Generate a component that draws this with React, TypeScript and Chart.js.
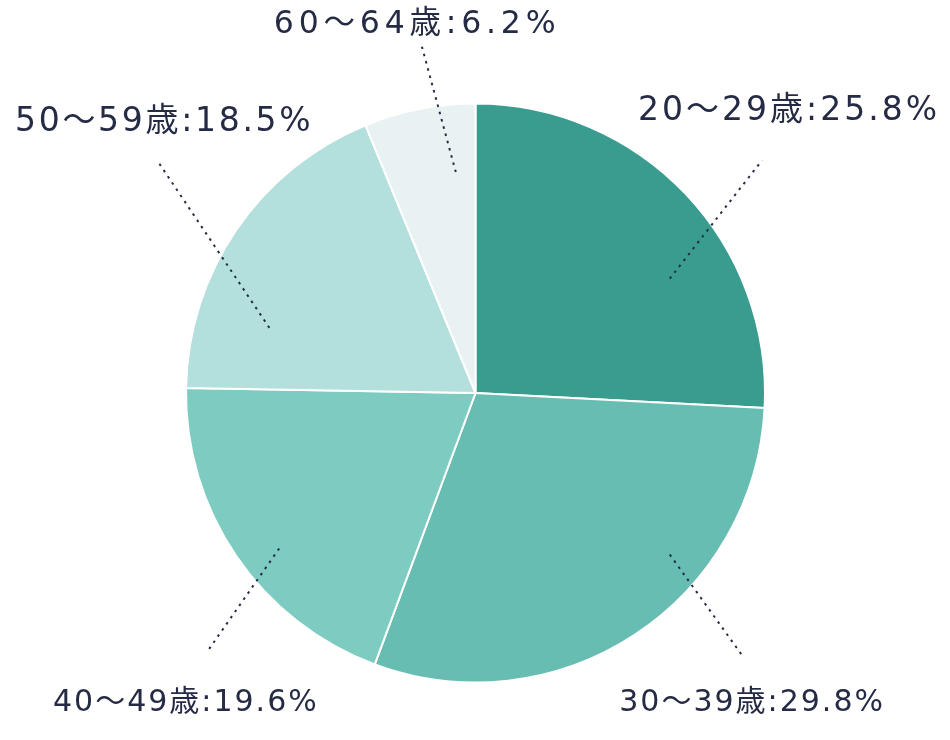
import { useEffect, useRef } from 'react';
import { Chart, registerables, type Plugin } from 'chart.js';

Chart.register(...registerables);

const AGE_GROUPS = ['20～29歳', '30～39歳', '40～49歳', '50～59歳', '60～64歳'];
const SHARES = [25.8, 29.8, 19.6, 18.5, 6.2];
const COLORS = ['#3a9c8f', '#68bdb3', '#7ecbc1', '#b3e0dc', '#e8f2f3'];

const INK = '#262b45';
const FONT = '"DejaVu Sans", "Noto Sans CJK JP", sans-serif';

// leader lines + label positions, as multiples of the pie radius from its centre
const LABEL_LAYOUT = [
  { from: [0.671, -0.395], to: [0.99, -0.804], text: [1.078, -0.942], size: 33, gap: 3 },
  { from: [0.671, 0.558], to: [0.92, 0.905], text: [0.952, 1.1], size: 30, gap: 2 },
  { from: [-0.678, 0.537], to: [-0.92, 0.884], text: [-1.004, 1.1], size: 30, gap: 2 },
  { from: [-0.712, -0.225], to: [-1.1, -0.804], text: [-1.08, -0.905], size: 33, gap: 2.7 },
  { from: [-0.068, -0.763], to: [-0.185, -1.196], text: [-0.21, -1.245], size: 31.5, gap: 4.8 },
];

const labelPlugin: Plugin<'pie'> = {
  id: 'leaderLabels',
  afterDatasetsDraw(chart) {
    const arc = chart.getDatasetMeta(0).data[0] as any;
    if (!arc) return;
    const { x: cx, y: cy, outerRadius: r } = arc;
    const ctx = chart.ctx;
    ctx.save();
    ctx.strokeStyle = INK;
    ctx.lineWidth = 2;
    ctx.setLineDash([2.5, 5]);
    LABEL_LAYOUT.forEach((l) => {
      ctx.beginPath();
      ctx.moveTo(cx + l.from[0] * r, cy + l.from[1] * r);
      ctx.lineTo(cx + l.to[0] * r, cy + l.to[1] * r);
      ctx.stroke();
    });
    ctx.setLineDash([]);
    ctx.fillStyle = INK;
    ctx.textAlign = 'center';
    ctx.textBaseline = 'alphabetic';
    LABEL_LAYOUT.forEach((l, i) => {
      ctx.font = `${l.size}px ${FONT}`;
      (ctx as any).letterSpacing = `${l.gap}px`;
      ctx.fillText(
        `${AGE_GROUPS[i]}:${SHARES[i]}%`,
        cx + l.text[0] * r + l.gap / 2,
        cy + l.text[1] * r,
      );
    });
    ctx.restore();
  },
};

export default function App() {
  const canvasRef = useRef<HTMLCanvasElement>(null);

  useEffect(() => {
    const canvas = canvasRef.current;
    if (!canvas) return;
    const chart = new Chart(canvas, {
      type: 'pie',
      data: {
        labels: AGE_GROUPS,
        datasets: [
          {
            data: SHARES,
            backgroundColor: COLORS,
            borderColor: '#ffffff',
            borderWidth: 2,
          },
        ],
      },
      options: {
        animation: false,
        responsive: true,
        maintainAspectRatio: false,
        layout: { padding: { top: 102.5, bottom: 56.5, left: 185, right: 184 } },
        plugins: {
          legend: { display: false },
          tooltip: { enabled: false },
        },
      },
      plugins: [labelPlugin],
    });
    return () => chart.destroy();
  }, []);

  return (
    <div style={{ position: 'fixed', left: 0, top: 0, width: 950, height: 740, background: '#fff' }}>
      <canvas ref={canvasRef} />
    </div>
  );
}
